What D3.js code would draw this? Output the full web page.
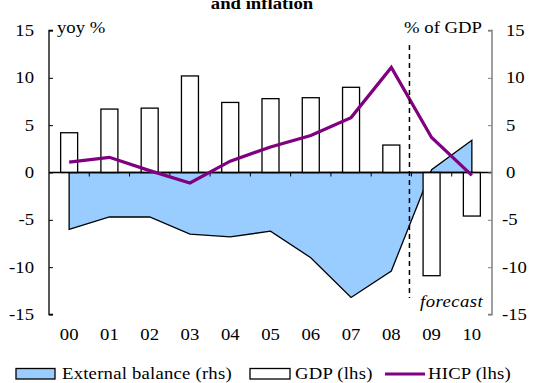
<!DOCTYPE html>
<html><head><meta charset="utf-8">
<script src="https://cdn.jsdelivr.net/npm/d3@7"></script>
<style>
body{margin:0;background:#fff;}
svg{display:block;}
</style></head>
<body><svg id="c" width="534" height="383"></svg>
<script>
const years = ["00","01","02","03","04","05","06","07","08","09","10"];
const gdp = [4.2, 6.7, 6.8, 10.2, 7.4, 7.8, 7.9, 9.0, 2.9, -10.9, -4.6];
const hicp = [1.1, 1.6, 0.2, -1.1, 1.2, 2.7, 3.9, 5.8, 11.1, 3.7, -0.3];
const extBalance = [-6.0, -4.7, -4.7, -6.5, -6.8, -6.2, -9.0, -13.2, -10.4, 0.3, 3.4];
const yTicks = [-15, -10, -5, 0, 5, 10, 15];

const FONT = "Liberation Serif";
const FS = 17, SX = 1.1;
const svg = d3.select("#c");
const L = 49, R = 492, T = 30.5, B = 314.5;
const x = d3.scaleBand().domain(years).range([L, R]).padding(0);
const cx = d => x(d) + x.bandwidth()/2;
const yL = d3.scaleLinear().domain([-15, 15]).range([B, T]);
const yR = d3.scaleLinear().domain([-15, 15]).range([B, T]);

// text helper: horizontally widened serif text, like the reference
function label(parent, px, py, str, opts = {}) {
  const t = parent.append("text")
    .attr("transform", `translate(${px},${py}) scale(${SX},1)`)
    .attr("font-family", FONT).attr("font-size", opts.size || FS)
    .attr("fill", "#000")
    .attr("text-anchor", opts.anchor || "start")
    .text(str);
  if (opts.bold) t.attr("font-weight", "bold");
  if (opts.italic) t.attr("font-style", "italic");
  if (opts.ls) t.attr("letter-spacing", opts.ls);
  return t;
}

// title (first line lies above the frame, as in the reference)
label(svg, 262, 9, "and inflation", {anchor: "middle", bold: true});

// external balance area (rhs)
const area = d3.area().x((d,i) => cx(years[i])).y0(yR(0)).y1(d => yR(d));
svg.append("path").datum(extBalance).attr("d", area)
  .attr("fill", "#99CCFF").attr("stroke", "#000").attr("stroke-width", 1.3);

// GDP bars (lhs)
const bw = 17;
svg.selectAll("rect.gdp").data(gdp).enter().append("rect")
  .attr("x", (d,i) => cx(years[i]) - bw/2)
  .attr("y", d => yL(Math.max(0, d)))
  .attr("width", bw)
  .attr("height", d => Math.abs(yL(d) - yL(0)))
  .attr("fill", "#fff").attr("stroke", "#000").attr("stroke-width", 1.3);

// zero line with category ticks
svg.append("line").attr("x1", L).attr("x2", R).attr("y1", yL(0)).attr("y2", yL(0))
  .attr("stroke", "#000").attr("stroke-width", 1.5);
svg.selectAll("line.xt").data(years.slice(1)).enter().append("line")
  .attr("x1", d => x(d)).attr("x2", d => x(d))
  .attr("y1", yL(0)).attr("y2", yL(0) + 4)
  .attr("stroke", "#000").attr("stroke-width", 1);

// HICP line (lhs)
svg.append("path").datum(hicp)
  .attr("d", d3.line().x((d,i) => cx(years[i])).y(d => yL(d)))
  .attr("fill", "none").attr("stroke", "#800080").attr("stroke-width", 3.2);

// forecast divider
const xf = x("09") - 2;
svg.append("line").attr("x1", xf).attr("x2", xf).attr("y1", 45).attr("y2", 298)
  .attr("stroke", "#000").attr("stroke-width", 1.5).attr("stroke-dasharray", "5,4");
label(svg, 420, 307, "forecast", {italic: true, ls: 0.4});

// left axis
const axL = svg.append("g").attr("transform", `translate(${L},0)`)
  .call(d3.axisRight(yL).tickValues(yTicks).tickSize(4).tickFormat(""));
axL.select(".domain").attr("stroke", "#000").attr("stroke-width", 1.3).attr("d", `M4,${T}H0V${B}H4`);
axL.selectAll(".tick line").attr("stroke", "#000");
yTicks.forEach(v => label(svg, 34, yL(v) + 5.5, v, {anchor: "end"}));

// right axis
const axR = svg.append("g").attr("transform", `translate(${R},0)`)
  .call(d3.axisLeft(yR).tickValues(yTicks).tickSize(4).tickFormat(""));
axR.select(".domain").attr("stroke", "#808080").attr("stroke-width", 1.5).attr("d", `M-4,${T}H0V${B}H-4`);
axR.selectAll(".tick line").attr("stroke", "#808080");
yTicks.forEach(v => label(svg, v < 0 ? 502 : 506, yR(v) + 5.5, v));

// category labels
years.forEach(d => label(svg, cx(d), 340, d, {anchor: "middle"}));

// axis titles
label(svg, 57, 33, "yoy %");
label(svg, 482, 33, "% of GDP", {anchor: "end"});

// legend
const lg = svg.append("g");
lg.append("rect").attr("x", 16).attr("y", 368.5).attr("width", 39).attr("height", 10.5)
  .attr("fill", "#99CCFF").attr("stroke", "#000").attr("stroke-width", 1.3);
label(lg, 62, 379, "External balance (rhs)", {ls: 0.2});
lg.append("rect").attr("x", 250).attr("y", 368.5).attr("width", 40).attr("height", 10.5)
  .attr("fill", "#fff").attr("stroke", "#000").attr("stroke-width", 1.3);
label(lg, 295, 379, "GDP (lhs)", {ls: 0.2});
lg.append("line").attr("x1", 385).attr("x2", 425).attr("y1", 374).attr("y2", 374)
  .attr("stroke", "#800080").attr("stroke-width", 3.2);
label(lg, 428, 379, "HICP (lhs)", {ls: 0.2});
</script></body></html>
